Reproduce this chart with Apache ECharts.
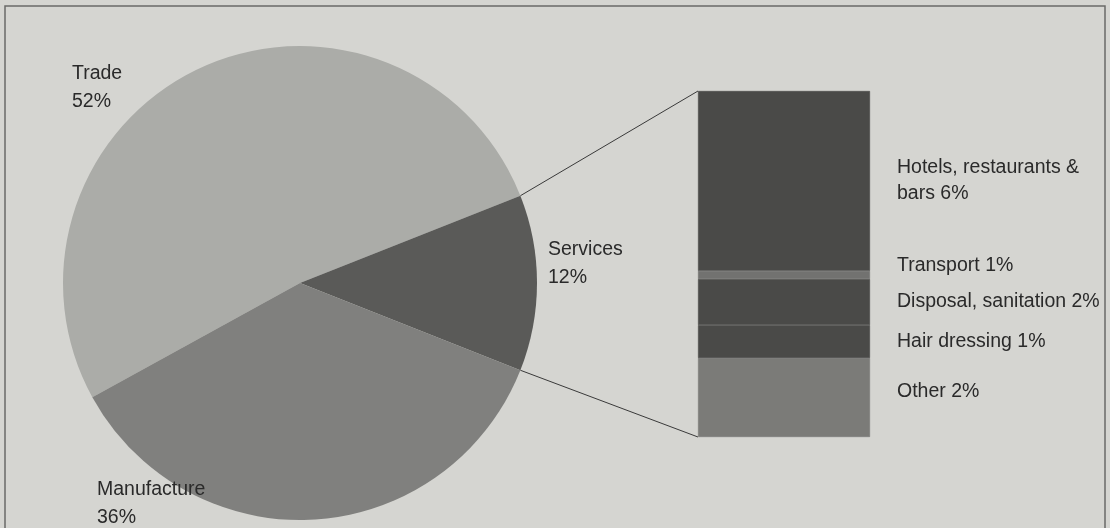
<!DOCTYPE html>
<html>
<head>
<meta charset="utf-8">
<script src="https://cdn.jsdelivr.net/npm/echarts@6/dist/echarts.min.js"></script>
<style>
  html, body { margin: 0; background: #d5d5d1; }
  #main { width: 1110px; height: 528px; }
</style>
</head>
<body>
<div id="main"></div>
<script>
// main sectors (pie)
var sectors = ["Trade", "Services", "Manufacture"];
var sectorShares = [52, 12, 36];
var sectorColors = ["#abaca8", "#5a5a58", "#80807e"];

// breakdown of services (bar), top to bottom
var serviceParts = ["Hotels, restaurants & bars", "Transport", "Disposal, sanitation", "Hair dressing", "Other"];
var serviceLabels = ["Hotels, restaurants &\nbars 6%", "Transport 1%", "Disposal, sanitation 2%", "Hair dressing 1%", "Other 2%"];
var serviceHeights = [6.24, 0.28, 1.6, 1.14, 2.74]; // as drawn in the bar
var serviceColors = ["#4a4a48", "#727270", "#4a4a48", "#4a4a48", "#7b7b78"];
var labelShift = [0, -9, 0, 0, -6];

var pieCenter = [300, 283];
var pieRadius = 237;
var barLeft = 698, barWidth = 172, barTop = 91, barHeight = 346;

var font = "'Liberation Sans', Arial, sans-serif";
var servicesTotal = sectorShares[1];
// services wedge is centred on the horizontal axis
var startAngle = sectorShares[0] * 3.6 + sectorShares[1] * 1.8;

var pieLabelPos = [
  { x: 72, y: 88 },
  { x: 548, y: 264 },
  { x: 97, y: 504 }
];

var myChart = echarts.init(document.getElementById("main"));

var barSeries = [];
for (var i = serviceParts.length - 1; i >= 0; i--) {
  barSeries.push({
    name: serviceParts[i],
    type: "bar",
    stack: "services",
    barWidth: "100%",
    silent: true,
    itemStyle: { color: serviceColors[i], borderColor: serviceColors[i], borderWidth: 0.6 },
    label: {
      show: true,
      position: "right",
      distance: 27,
      offset: [0, labelShift[i]],
      formatter: serviceLabels[i],
      fontFamily: font,
      fontSize: 19.5,
      lineHeight: 26,
      color: "#2a2a2a"
    },
    data: [serviceHeights[i]]
  });
}

var option = {
  backgroundColor: "#d5d5d1",
  animation: false,
  grid: { left: barLeft, top: barTop, width: barWidth, height: barHeight },
  xAxis: { type: "category", data: ["Services"], show: false },
  yAxis: { type: "value", min: 0, max: servicesTotal, show: false },
  series: [
    {
      type: "pie",
      center: pieCenter,
      radius: pieRadius,
      startAngle: startAngle,
      clockwise: true,
      silent: true,
      data: sectors.map(function (s, i) {
        return { name: s, value: sectorShares[i], itemStyle: { color: sectorColors[i] } };
      }),
      label: {
        show: true,
        position: "outside",
        formatter: "{b}\n{c}%",
        fontFamily: font,
        fontSize: 19.5,
        lineHeight: 28,
        color: "#2a2a2a"
      },
      labelLine: { show: false },
      labelLayout: function (params) {
        var p = pieLabelPos[params.dataIndex];
        return { x: p.x, y: p.y, align: "left", verticalAlign: "middle" };
      }
    }
  ].concat(barSeries)
};
myChart.setOption(option);

// connector lines from the services wedge to the bar
var a = sectorShares[1] * 1.8 * Math.PI / 180;
var yTop = myChart.convertToPixel({ yAxisIndex: 0 }, servicesTotal);
var yBottom = myChart.convertToPixel({ yAxisIndex: 0 }, 0);
var edgeTop = [pieCenter[0] + pieRadius * Math.cos(a), pieCenter[1] - pieRadius * Math.sin(a)];
var edgeBottom = [pieCenter[0] + pieRadius * Math.cos(a), pieCenter[1] + pieRadius * Math.sin(a)];
myChart.setOption({
  graphic: [
    {
      type: "rect",
      shape: { x: 5, y: 6, width: 1100, height: 540 },
      style: { fill: "none", stroke: "#6a6a68", lineWidth: 1.5 },
      silent: true
    },
    {
      type: "line",
      shape: { x1: edgeTop[0], y1: edgeTop[1], x2: barLeft, y2: yTop },
      style: { stroke: "#3a3a3a", lineWidth: 1 }
    },
    {
      type: "line",
      shape: { x1: edgeBottom[0], y1: edgeBottom[1], x2: barLeft, y2: yBottom },
      style: { stroke: "#3a3a3a", lineWidth: 1 }
    }
  ]
});
</script>
</body>
</html>
